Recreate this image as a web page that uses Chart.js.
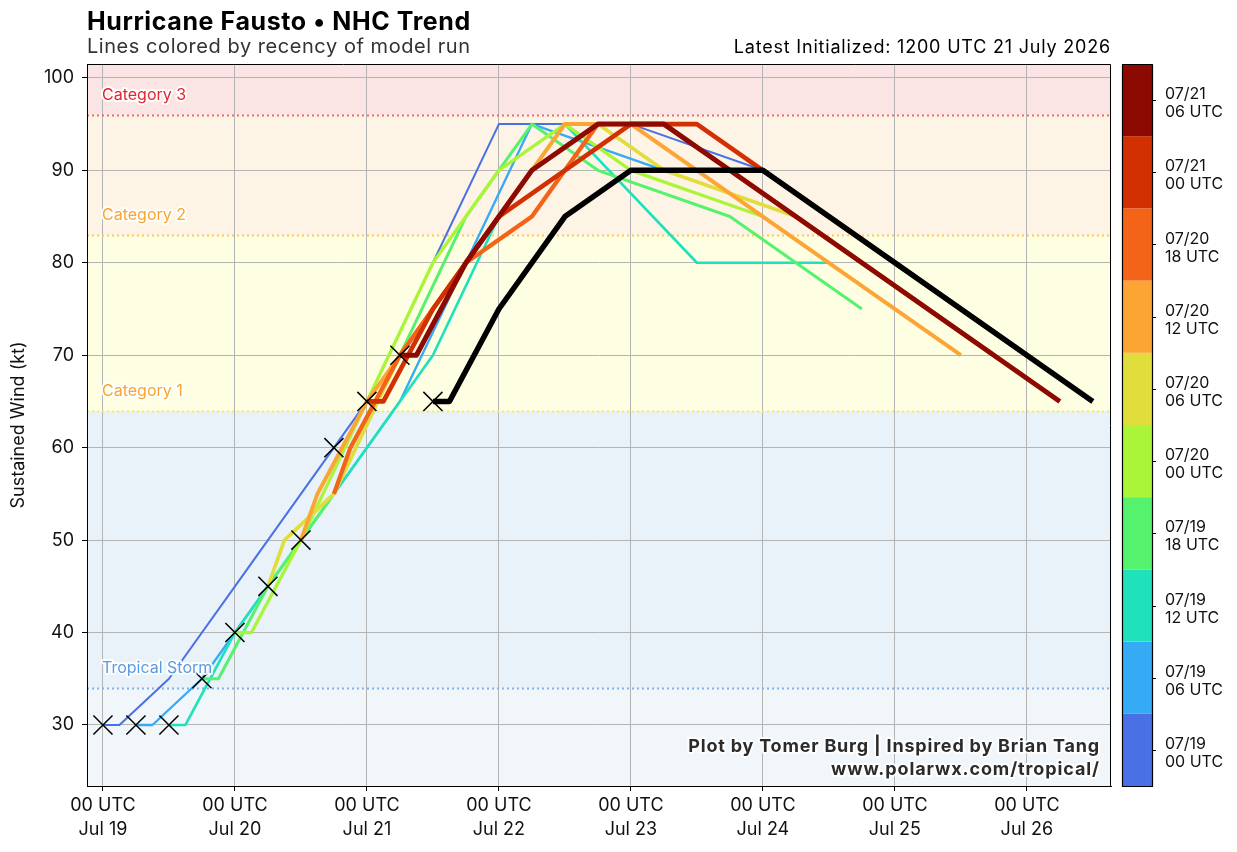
<!DOCTYPE html>
<html>
<head>
<meta charset="utf-8">
<script src="https://cdn.jsdelivr.net/npm/chart.js@4.4.1/dist/chart.umd.min.js"></script>
<style>
  body { margin: 0; background: #fff; }
  canvas { display: block; }
</style>
</head>
<body>
<canvas id="trend" width="1237" height="852"></canvas>
<script>
// times are hours since 00 UTC 19 July
const fcstHours = [0, 3, 12, 24, 36, 48, 60, 72, 96, 120];

const runInits = [0, 6, 12, 18, 24, 30, 36, 42, 48, 54];
const runLabels = [
    ['07/19', '00 UTC'], ['07/19', '06 UTC'], ['07/19', '12 UTC'], ['07/19', '18 UTC'],
    ['07/20', '00 UTC'], ['07/20', '06 UTC'], ['07/20', '12 UTC'], ['07/20', '18 UTC'],
    ['07/21', '00 UTC'], ['07/21', '06 UTC']
];
const runColors = ['#4a70e6', '#35aaf5', '#1fe2bd', '#55f26e', '#aaf53a',
                   '#e1dd3c', '#fca534', '#f46418', '#d22f02', '#8c0a02'];

const wind19_00 = [30, 30, 35, 45, 55, 65, 80, 95, 95, 90];
const wind19_06 = [30, 30, 35, 45, 55, 65, 80, 95, 90, null];
const wind19_12 = [30, 30, 40, 50, 60, 70, 85, 95, 80, 80];
const wind19_18 = [35, 35, 45, 55, 70, 85, 95, 90, 85, 75];
const wind20_00 = [40, 40, 50, 65, 80, 90, 95, 90, 85, null];
const wind20_06 = [45, 50, 55, 70, 80, 90, 95, 90, 85, 75];
const wind20_12 = [50, 55, 65, 75, 85, 95, 95, 90, 80, 70];
const wind20_18 = [55, 60, 70, 80, 85, 95, 95, 90, 80, 70];
const wind21_00 = [65, 65, 75, 85, 90, 95, 95, 90, 80, 70];
const wind21_06 = [70, 70, 80, 90, 95, 95, 90, 85, 75, 65];
const runWinds = [wind19_00, wind19_06, wind19_12, wind19_18, wind20_00,
                  wind20_06, wind20_12, wind20_18, wind21_00, wind21_06];

const latestInit = 60;
const windLatest = [65, 65, 75, 85, 90, 90, 90, 85, 75, 65];

const obsHours = [0, 6, 12, 18, 24, 30, 36, 42, 48, 54, 60];
const obsWind = [30, 30, 30, 35, 40, 45, 50, 60, 65, 70, 65];

const dayTicks = [0, 24, 48, 72, 96, 120, 144, 168];
const dayLabels = ['Jul 19', 'Jul 20', 'Jul 21', 'Jul 22', 'Jul 23', 'Jul 24', 'Jul 25', 'Jul 26'];
const windTicks = [30, 40, 50, 60, 70, 80, 90, 100];

const catWinds = [34, 64, 83, 96];
const catNames = ['Tropical Storm', 'Category 1', 'Category 2', 'Category 3'];

const FONT = 'Inter, "Noto Sans", sans-serif';

const track = (init, winds) => fcstHours.map((h, i) => ({ x: init + h, y: winds[i] }));

// first dataset is drawn on top
const datasets = [{
    data: obsHours.map((h, i) => ({ x: h, y: obsWind[i] })),
    showLine: false,
    pointStyle: 'crossRot',
    pointRadius: 13.5,
    borderColor: '#000',
    pointBorderWidth: 1.5
}, {
    data: track(latestInit, windLatest),
    borderColor: '#000',
    borderWidth: 5.5
}];
for (let i = runWinds.length - 1; i >= 0; i--) {
    datasets.push({
        data: track(runInits[i], runWinds[i]),
        borderColor: runColors[i],
        borderWidth: 2 + i * 0.33
    });
}

function haloText(ctx, text, x, y, color) {
    ctx.lineJoin = 'round';
    ctx.strokeStyle = 'rgba(255,255,255,0.9)';
    ctx.lineWidth = 4;
    ctx.strokeText(text, x, y);
    ctx.fillStyle = color;
    ctx.fillText(text, x, y);
}

const decorations = {
    id: 'decorations',
    beforeDraw(chart) {
        const { ctx, chartArea: a, scales: { y } } = chart;
        const edges = [y.min, ...catWinds, y.max];
        const fills = ['#f1f6fb', '#e9f1f9', '#fefee3', '#fef4e5', '#fbe4e4'];
        ctx.save();
        for (let i = 0; i < fills.length; i++) {
            const top = y.getPixelForValue(edges[i + 1]);
            const bot = y.getPixelForValue(edges[i]);
            ctx.fillStyle = fills[i];
            ctx.fillRect(a.left, top, a.right - a.left, bot - top);
        }
        ctx.restore();
    },
    beforeDatasetsDraw(chart) {
        const { ctx, chartArea: a, scales: { y } } = chart;
        const lineColors = ['#7db4ea', '#eeee60', '#ffc857', '#f06a6a'];
        ctx.save();
        ctx.lineWidth = 2;
        ctx.setLineDash([2, 3]);
        catWinds.forEach((w, i) => {
            const py = Math.round(y.getPixelForValue(w)) + 0.5;
            ctx.strokeStyle = lineColors[i];
            ctx.beginPath();
            ctx.moveTo(a.left, py);
            ctx.lineTo(a.right, py);
            ctx.stroke();
        });
        ctx.restore();
    },
    afterDatasetsDraw(chart) {
        const { ctx, chartArea: a, scales: { y } } = chart;
        ctx.save();

        // category labels
        const labelColors = ['#5b9be0', '#f8a630', '#f8a630', '#e0262e'];
        ctx.font = '16px ' + FONT;
        ctx.textBaseline = 'alphabetic';
        ctx.textAlign = 'left';
        catWinds.forEach((w, i) => {
            haloText(ctx, catNames[i], 102, y.getPixelForValue(w) - 15, labelColors[i]);
        });

        // credit
        ctx.font = 'bold 18px ' + FONT;
        ctx.textAlign = 'right';
        ctx.letterSpacing = '0.8px';
        haloText(ctx, 'Plot by Tomer Burg | Inspired by Brian Tang', 1100, 752, '#2b2b2b');
        ctx.letterSpacing = '0.9px';
        haloText(ctx, 'www.polarwx.com/tropical/', 1100, 775, '#2b2b2b');
        ctx.letterSpacing = '0px';

        // frame
        ctx.strokeStyle = '#000';
        ctx.lineWidth = 1;
        ctx.setLineDash([]);
        ctx.strokeRect(a.left + 0.5, a.top + 0.5, a.right - a.left - 1, a.bottom - a.top);

        // titles
        ctx.textAlign = 'left';
        ctx.fillStyle = '#000';
        ctx.font = 'bold 25px ' + FONT;
        ctx.letterSpacing = '0.6px';
        ctx.fillText('Hurricane Fausto \u2022 NHC Trend', 87, 30);
        ctx.font = '20px ' + FONT;
        ctx.letterSpacing = '0.55px';
        ctx.fillStyle = '#333';
        ctx.fillText('Lines colored by recency of model run', 87, 53);
        ctx.textAlign = 'right';
        ctx.fillStyle = '#000';
        ctx.font = '18px ' + FONT;
        ctx.letterSpacing = '0.8px';
        ctx.fillText('Latest Initialized: 1200 UTC 21 July 2026', 1111, 53);
        ctx.letterSpacing = '0px';

        // y axis title
        ctx.save();
        ctx.translate(24, (a.top + a.bottom) / 2);
        ctx.rotate(-Math.PI / 2);
        ctx.textAlign = 'center';
        ctx.font = '18px ' + FONT;
        ctx.fillStyle = '#111';
        ctx.fillText('Sustained Wind (kt)', 0, 0);
        ctx.restore();

        // colorbar
        const cbL = 1122, cbR = 1152;
        const segH = (a.bottom - a.top) / runColors.length;
        ctx.textAlign = 'left';
        ctx.font = '16px ' + FONT;
        runColors.forEach((c, i) => {
            const bot = a.bottom - i * segH;
            ctx.fillStyle = c;
            ctx.fillRect(cbL, bot - segH, cbR - cbL, segH);
            const mid = bot - segH / 2;
            ctx.strokeStyle = '#000';
            ctx.lineWidth = 1;
            ctx.beginPath();
            ctx.moveTo(cbR, Math.round(mid) + 0.5);
            ctx.lineTo(cbR + 4, Math.round(mid) + 0.5);
            ctx.stroke();
            ctx.fillStyle = '#111';
            ctx.fillText(runLabels[i][0], 1165, mid - 1);
            ctx.fillText(runLabels[i][1], 1165, mid + 17);
        });
        ctx.strokeStyle = '#000';
        ctx.lineWidth = 1.2;
        ctx.strokeRect(cbL + 0.5, a.top + 0.5, cbR - cbL, a.bottom - a.top);

        ctx.restore();
    }
};

new Chart(document.getElementById('trend'), {
    type: 'line',
    data: { datasets },
    options: {
        responsive: false,
        animation: false,
        devicePixelRatio: 1,
        layout: { padding: { top: 64, right: 126, left: 0, bottom: 0 } },
        elements: {
            line: { tension: 0, borderJoinStyle: 'round', fill: false },
            point: { radius: 0, hoverRadius: 0 }
        },
        plugins: { legend: { display: false }, tooltip: { enabled: false } },
        scales: {
            x: {
                type: 'linear',
                min: -2.9,
                max: 183.3,
                afterFit: s => { s.height = 66; },
                afterBuildTicks: s => { s.ticks = dayTicks.map(v => ({ value: v })); },
                grid: { color: '#b4b4b4', lineWidth: 1, tickLength: 5, tickColor: '#000' },
                border: { color: '#000' },
                ticks: {
                    autoSkip: false,
                    maxRotation: 0,
                    padding: 3,
                    color: '#111',
                    font: { family: FONT, size: 18, lineHeight: 1.3 },
                    callback: v => ['00 UTC', dayLabels[dayTicks.indexOf(v)]]
                }
            },
            y: {
                min: 23.4,
                max: 101.5,
                afterFit: s => { s.width = 87; },
                afterBuildTicks: s => { s.ticks = windTicks.map(v => ({ value: v })); },
                grid: { color: '#b4b4b4', lineWidth: 1, tickLength: 5, tickColor: '#000' },
                border: { color: '#000' },
                ticks: {
                    padding: 8,
                    color: '#111',
                    font: { family: FONT, size: 18 }
                }
            }
        }
    },
    plugins: [decorations]
});
</script>
</body>
</html>
